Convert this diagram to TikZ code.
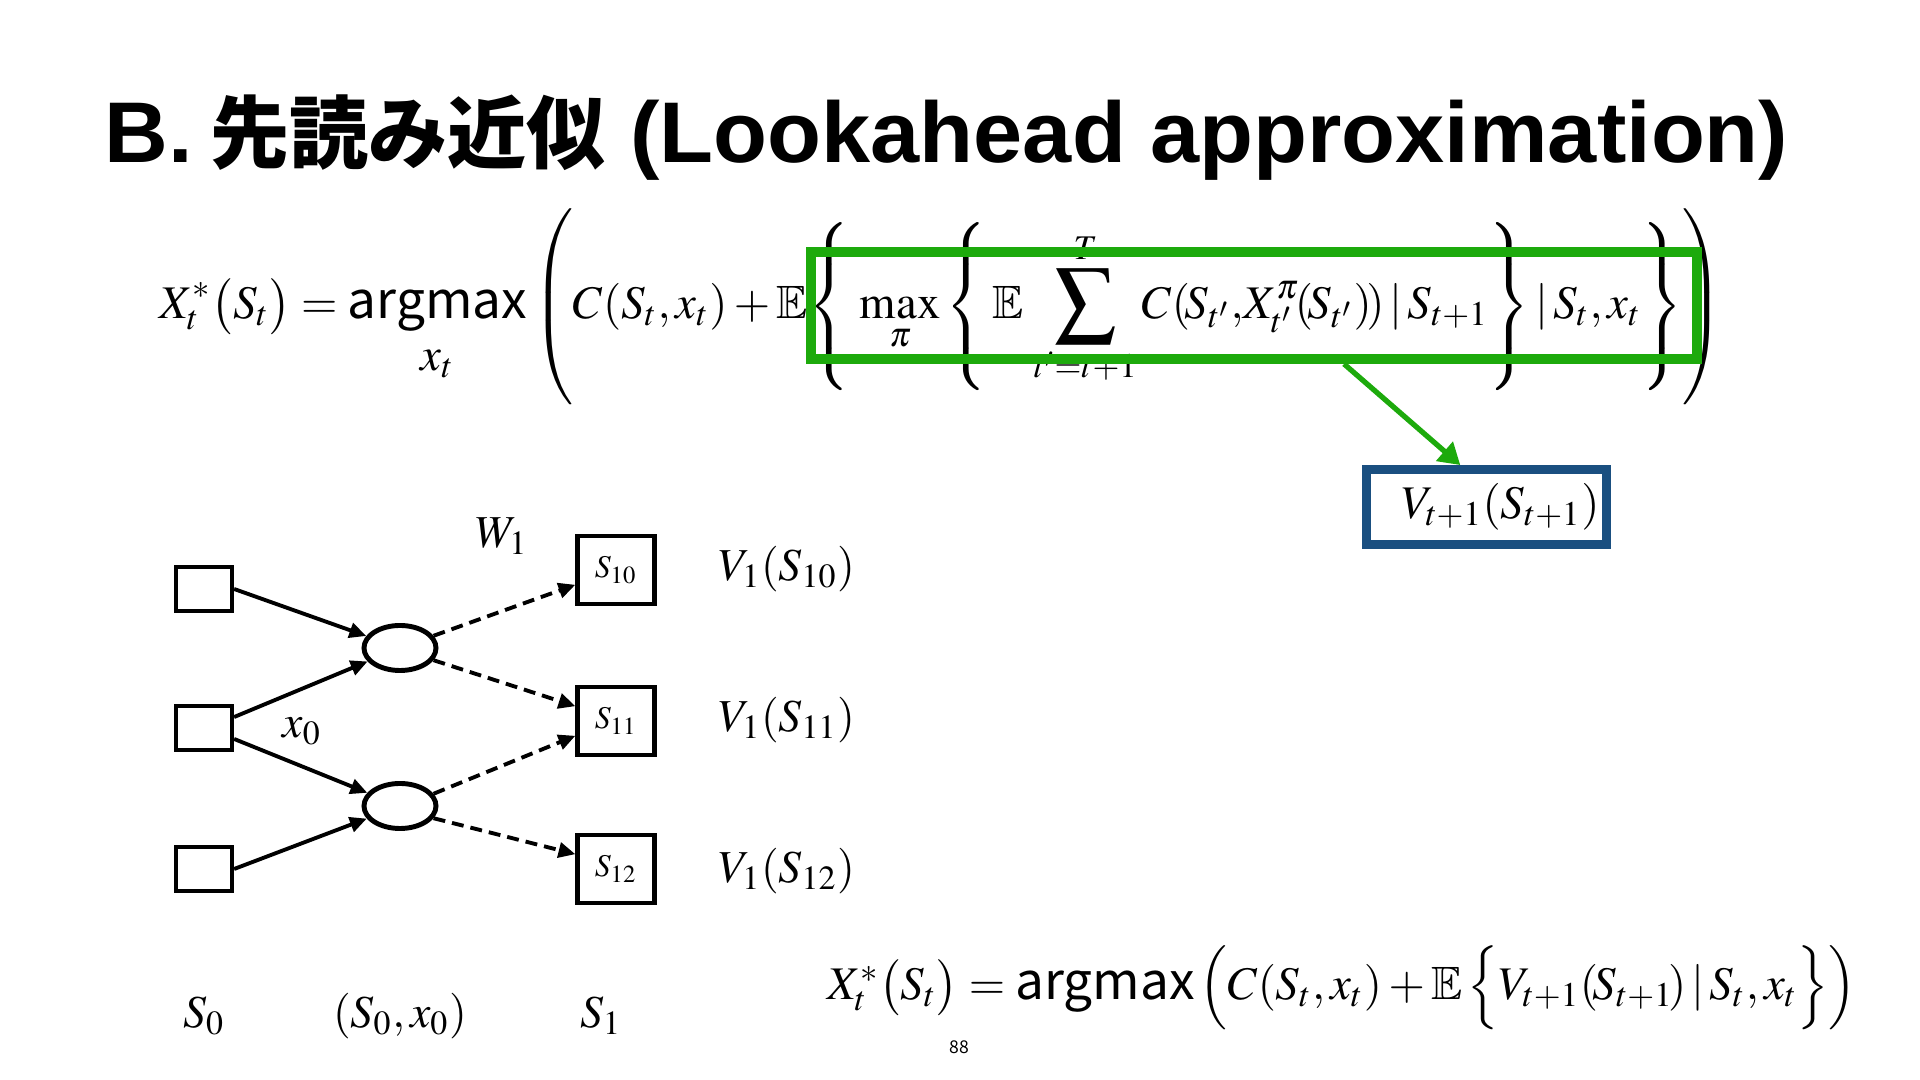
\documentclass[tikz,border=0pt]{standalone}
\usepackage{amsmath}
\usepackage{mathptmx}
\usepackage{amssymb}
\usepackage{fontspec}
\setmainfont{Liberation Serif}
\newfontfamily\jp{Noto Sans CJK JP}
\newfontfamily\hv{Liberation Sans}[FakeStretch=1.025]
\usetikzlibrary{arrows.meta,shapes.geometric}
\definecolor{hlgreen}{HTML}{1DAA0C}
\definecolor{hlblue}{HTML}{1A4F80}
\newcommand\dstrut[1]{\rule[\dimexpr-#1/2+3.5pt\relax]{0pt}{#1}}
\newcommand\bigsum{\mathop{\vcenter{\hbox{\scalebox{1.3}{$\displaystyle\sum$}}}}\limits}
\newcommand\amx{\text{\jp\fontsize{14.6}{16}\selectfont argmax}}
\begin{document}
\begin{tikzpicture}[x={(0.01cm,0)},y={(0,-0.01cm)},
  sq/.style={draw, line width=1.2pt, minimum width=0.56cm, minimum height=0.44cm, inner sep=0pt},
  st/.style={draw, line width=1.2pt, minimum width=0.77cm, minimum height=0.68cm, inner sep=0pt, font=\fontsize{9}{10}\selectfont},
  dec/.style={ellipse, draw, line width=1.4pt, minimum width=0.72cm, minimum height=0.45cm, inner sep=0pt},
  arr/.style={line width=1.1pt, -{Triangle[length=4.8pt, width=4.3pt]}},
  darr/.style={arr, dash pattern=on 3.4pt off 2pt},
  lbl/.style={inner sep=0pt, font=\fontsize{13}{15}\selectfont},
  eqn/.style={inner sep=0pt, font=\fontsize{13.3}{16}\selectfont},
  garr/.style={hlgreen, line width=1.5pt, -{Triangle[length=6pt, width=7pt]}}
]
\useasboundingbox (0,0) rectangle (1920,1080);

% title
\node[anchor=base west, inner sep=0pt] (title) at (104,163)
  {{\hv\bfseries\fontsize{24.5}{28}\selectfont B.\hspace{0.2em}}{\jp\bfseries\fontsize{22.5}{26}\selectfont 先読み近似}{\hv\bfseries\fontsize{24.5}{28}\selectfont\ (Lookahead approximation)}};

% main formula
\node[eqn, anchor=west] (f1) at (159,306)
  {$\displaystyle X_t^*\bigl(S_t\bigr) = \underset{\displaystyle x_t\rule{0pt}{9pt}}{\amx}\left(\dstrut{60pt}C(S_t,x_t) + \mathbb{E}\!\left\{\dstrut{52pt}\,\max_\pi \left\{\dstrut{44pt}\,\mathbb{E}\,\bigsum_{t'=t+1}^{T} C(\!S_{t'},\!X^\pi_{t'}\!(\!S_{t'})\!)\,|\,S_{t+1}\right\} |\,S_t,x_t\right\}\right)$};

% highlight
\node[draw=hlgreen, line width=2.8pt, minimum width=8.86cm, minimum height=1.07cm, inner sep=0pt] (gbox) at (1254,305.5) {};
\node[draw=hlblue, line width=2.5pt, minimum width=2.40cm, minimum height=0.75cm, inner sep=0pt, font=\fontsize{13.3}{16}\selectfont] (vbox) at (1486.5,507) {\hspace*{8pt}$V_{t+1}(S_{t+1})$};
\draw[garr] (gbox.-33.4) -- (vbox.122);

% tree
\node[sq] (a0) at (204,589) {};
\node[sq] (a1) at (204,728) {};
\node[sq] (a2) at (204,869) {};
\node[dec] (e1) at (400,648) {};
\node[dec] (e2) at (400,806) {};
\node[st] (s10) at (616,570) {$S_{10}$};
\node[st] (s11) at (616,721) {$S_{11}$};
\node[st] (s12) at (616,869) {$S_{12}$};

\draw[arr] (a0.east) -- (e1);
\draw[arr] (a1.20) -- (e1);
\draw[arr] (a1.-20) -- (e2);
\draw[arr] (a2.east) -- (e2);
\draw[darr] (e1.20) -- (s10.200);
\draw[darr] (e1.-20) -- (s11.160);
\draw[darr] (e2.20) -- (s11.200);
\draw[darr] (e2.-20) -- (s12.160);

\node[lbl] (w1) at (502,536) {$W_1$};
\node[lbl] (x0) at (302,731) {$x_0$};
\node[lbl] (v10) at (787,569) {$V_1(S_{10})$};
\node[lbl] (v11) at (787,720) {$V_1(S_{11})$};
\node[lbl] (v12) at (787,871) {$V_1(S_{12})$};
\node[lbl] (l0) at (204,1016) {$S_0$};
\node[lbl] (l1) at (400,1016) {$(S_0,x_0)$};
\node[lbl] (l2) at (601,1016) {$S_1$};

% bottom formula
\node[eqn] (f2) at (1342,987)
  {$X_t^*\bigl(S_t\bigr) = \amx\left(\dstrut{26pt}C(S_t,x_t) + \mathbb{E}\left\{\dstrut{19pt}V_{t+1}(\!S_{t+1}\!)\,|\,S_t,x_t\right\}\right)$};

\node[inner sep=0pt, font=\jp\fontsize{5}{6}\selectfont] (pg) at (959,1047) {88};
\end{tikzpicture}
\end{document}
